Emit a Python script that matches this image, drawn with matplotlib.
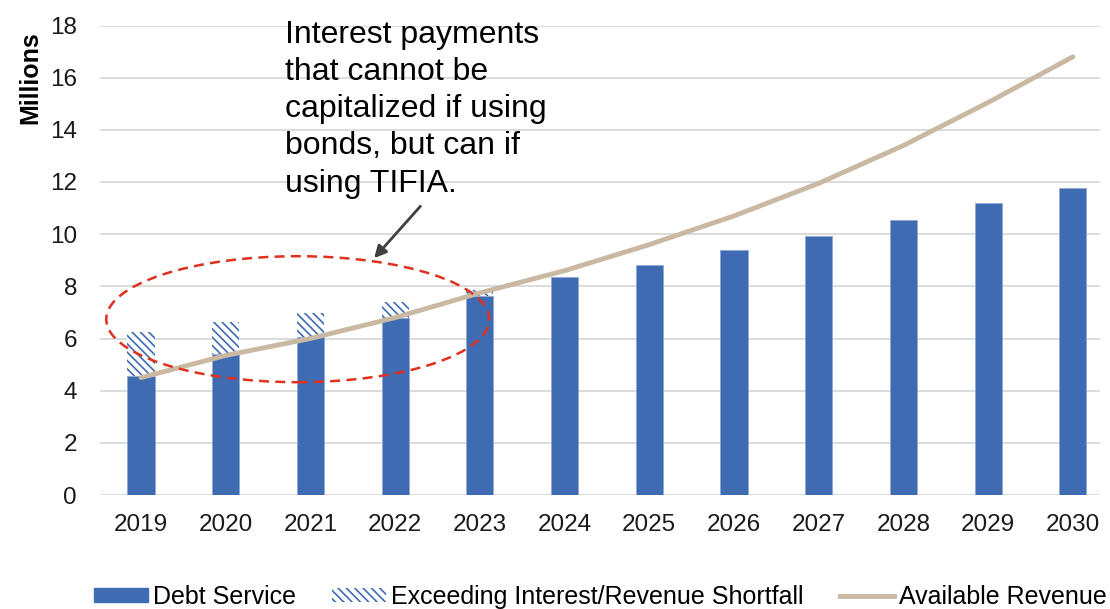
import matplotlib
matplotlib.use("Agg")
import matplotlib.pyplot as plt
from matplotlib.patches import Ellipse, Patch
from matplotlib.lines import Line2D
import numpy as np

plt.rcParams['font.family'] = ['Liberation Sans', 'DejaVu Sans']
plt.rcParams['hatch.linewidth'] = 1.2

years = ['2019', '2020', '2021', '2022', '2023', '2024', '2025', '2026', '2027', '2028', '2029', '2030']
debt_service = [4.55, 5.40, 6.04, 6.77, 7.64, 8.35, 8.81, 9.39, 9.92, 10.54, 11.19, 11.78]
exceeding = [1.71, 1.22, 0.93, 0.64, 0.23, 0, 0, 0, 0, 0, 0, 0]
available_revenue = [4.5, 5.35, 6.0, 6.8, 7.75, 8.6, 9.6, 10.7, 11.95, 13.4, 15.05, 16.8]

blue = '#3F6BB3'
tan = '#C9B9A3'
hatch_pat = '\\\\\\\\'

fig = plt.figure(figsize=(11.1, 6.09), dpi=100)
ax = fig.add_axes([100/1110, 1-495/609, 1000/1110, (495-25.5)/609])

x = np.arange(len(years))
w = 0.32
ax.bar(x, debt_service, width=w, color=blue, edgecolor='#8FA9D6', linewidth=0.6, zorder=2)
ax.bar(x, exceeding, width=w, bottom=debt_service, color='white', edgecolor=blue,
       hatch=hatch_pat, linewidth=0, zorder=2)
ax.plot(x, available_revenue, color=tan, lw=3.5, solid_capstyle='round', zorder=3)

ax.set_ylim(0, 18)
ax.set_xlim(-0.484, 11.32)
ax.set_yticks(range(0, 19, 2))
ax.set_xticks(x)
ax.set_xticklabels(years)
ax.tick_params(axis='both', length=0, labelsize=17.5, colors='#1a1a1a')
ax.tick_params(axis='x', pad=14)
ax.tick_params(axis='y', pad=16.5)
ax.grid(axis='y', color='#D9D9D9', lw=1.3, zorder=0)
ax.set_axisbelow(True)
for s in ax.spines.values():
    s.set_visible(False)

fig.text(30/1110, 1-78/609, 'Millions', rotation=90, fontsize=18, fontweight='bold',
         ha='center', va='center', color='black')

# ellipse highlighting
ell = Ellipse((1.85, 6.74), width=4.52, height=4.83, fill=False, edgecolor='#E0301E',
              lw=1.8, linestyle=(0, (4, 2.5)), zorder=4)
ax.add_patch(ell)

fig.text(285/1110, 1-20/609,
         'Interest payments\nthat cannot be\ncapitalized if using\nbonds, but can if\nusing TIFIA.',
         fontsize=23, ha='left', va='top', linespacing=1.31, color='black')

ax.annotate('', xy=(2.73, 9.0), xytext=(3.32, 11.15),
            arrowprops=dict(arrowstyle='-|>', color='#404040', lw=2, mutation_scale=18),
            zorder=5)

handles = [Patch(facecolor=blue, edgecolor=blue),
           Patch(facecolor='white', edgecolor=blue, hatch=hatch_pat, linewidth=0),
           Line2D([0], [0], color=tan, lw=3.5)]
labels = ['Debt Service', 'Exceeding Interest/Revenue Shortfall', 'Available Revenue']
leg = fig.legend(handles, labels, loc='center', bbox_to_anchor=(0.541, 1-597/609), ncol=3,
                 frameon=False, fontsize=18, handlelength=2.16, handleheight=0.45,
                 handletextpad=0.2, columnspacing=1.45, borderpad=0, borderaxespad=0)

fig.savefig('out.png', dpi=100)
